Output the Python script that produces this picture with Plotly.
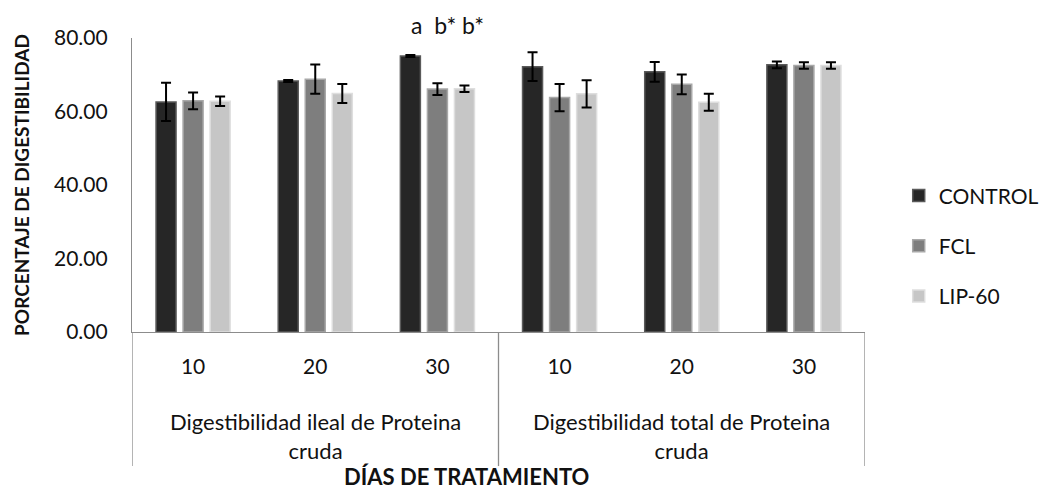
"""Digestibility of crude protein by treatment day — grouped bars with error bars."""

import plotly.graph_objects as go

DAYS = ["10", "20", "30", "10", "20", "30"]
GROUPS = ["Digestibilidad ileal de Proteina<br>cruda", "Digestibilidad total de Proteina<br>cruda"]

CONTROL = [62.6, 68.3, 75.1, 72.2, 70.8, 72.7]
CONTROL_ERR = [5.2, 0.3, 0.3, 3.9, 2.7, 0.9]
FCL = [62.9, 68.8, 66.1, 63.8, 67.4, 72.5]
FCL_ERR = [2.3, 4.0, 1.6, 3.7, 2.7, 0.9]
LIP60 = [62.8, 64.9, 66.2, 64.8, 62.5, 72.5]
LIP60_ERR = [1.3, 2.6, 0.9, 3.7, 2.3, 0.9]

SERIES = [
    ("CONTROL", CONTROL, CONTROL_ERR, "#262626", "#5a5a5a"),
    ("FCL", FCL, FCL_ERR, "#7e7e7e", "#a8a8a8"),
    ("LIP-60", LIP60, LIP60_ERR, "#c6c6c6", "#dedede"),
]

FONT = "Lato, 'Open Sans', sans-serif"
AXIS_GREY = "#8c8c8c"

xpos = list(range(len(DAYS)))

fig = go.Figure()
for name, vals, err, fill, edge in SERIES:
    fig.add_trace(
        go.Bar(
            x=xpos,
            y=vals,
            name=name,
            legendgroup=name,
            marker=dict(color=fill, line=dict(color=edge, width=1.5)),
            error_y=dict(type="data", array=err, color="black", thickness=2, width=5),
        )
    )

# group labels, dividers and axis title under the x axis
shapes = []
for xd in (-0.5, 2.5, 5.5):
    shapes.append(
        dict(type="line", xref="x", yref="paper", x0=xd, x1=xd, y0=0, y1=-0.456,
             line=dict(color=AXIS_GREY, width=1.3))
    )

annotations = []
for i, label in enumerate(GROUPS):
    annotations.append(
        dict(text=label, xref="x", yref="paper", x=1 + 3 * i, y=-0.353,
             showarrow=False, font=dict(size=22, color="#111"), yanchor="middle")
    )
annotations.append(
    dict(text="<b>DÍAS DE TRATAMIENTO</b>", xref="paper", yref="paper", x=0.456, y=-0.49,
         showarrow=False, font=dict(size=22, color="#111"), yanchor="middle")
)
annotations.append(
    dict(text="<b>PORCENTAJE DE DIGESTIBILIDAD</b>", xref="paper", yref="paper",
         x=-0.1515, y=0.5, textangle=-90, showarrow=False,
         font=dict(size=19, color="#111"), xanchor="center", yanchor="middle")
)
annotations.append(
    dict(text="a  b* b*", xref="x", yref="paper", x=2.08, y=1.044,
         showarrow=False, font=dict(size=23, color="#111"), yanchor="middle")
)

# the page body adds an 8px margin, so the figure is 8px smaller and shifted
fig.update_layout(
    width=1044,
    height=481,
    margin=dict(l=124, r=187, t=30, b=157, autoexpand=False),
    paper_bgcolor="white",
    plot_bgcolor="white",
    font=dict(family=FONT, size=21, color="#111"),
    barmode="group",
    bargap=0.336,
    bargroupgap=0.26,
    showlegend=True,
    legend=dict(
        x=1.046, xanchor="left", y=0.293, yanchor="middle",
        font=dict(size=21), tracegroupgap=20, bgcolor="rgba(0,0,0,0)",
    ),
    shapes=shapes,
    annotations=annotations,
)
fig.update_xaxes(
    range=[-0.5, 5.5],
    tickvals=xpos,
    ticktext=DAYS,
    showline=True,
    linecolor=AXIS_GREY,
    linewidth=1.3,
    showgrid=False,
    zeroline=False,
    ticks="",
    ticklabelstandoff=16,
    automargin=False,
)
fig.update_yaxes(
    range=[0, 80],
    tickvals=[0, 20, 40, 60, 80],
    tickformat=".2f",
    showline=True,
    linecolor=AXIS_GREY,
    linewidth=1.3,
    showgrid=False,
    zeroline=False,
    ticks="",
    ticklabelstandoff=19,
    automargin=False,
)

fig.write_html("out.html")
